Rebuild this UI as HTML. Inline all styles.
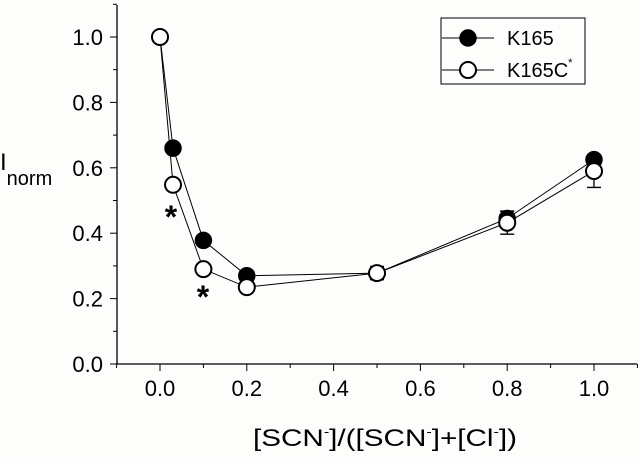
<!DOCTYPE html>
<html><head><meta charset="utf-8"><style>
html,body{margin:0;padding:0;background:#fdfdfb;}
svg{display:block;font-family:"Liberation Sans",Arial,sans-serif;}
</style></head><body>
<svg id="chart" width="640" height="458" viewBox="0 0 640 458" xmlns="http://www.w3.org/2000/svg">
<g id="axes"></g>
<g id="series"></g>
<text x="0" y="170" font-size="24" fill="#000">I<tspan font-size="20" dy="15">norm</tspan></text>
<text x="253" y="446" font-size="24" textLength="264" lengthAdjust="spacingAndGlyphs" fill="#000">[SCN<tspan font-size="13" dy="-10">-</tspan><tspan dy="10">]/([SCN</tspan><tspan font-size="13" dy="-10">-</tspan><tspan dy="10">]+[Cl</tspan><tspan font-size="13" dy="-10">-</tspan><tspan dy="10">])</tspan></text>
<g>
<rect x="441" y="18" width="144" height="66" fill="none" stroke="#000" stroke-width="1"/>
<g>
<line x1="442" y1="38" x2="494" y2="38" stroke="#000" stroke-width="1"/>
<circle cx="468" cy="38" r="8" fill="#000" stroke="#000" stroke-width="1.5"/>
<text x="507" y="45" font-size="20">K165</text></g>
<g>
<line x1="442" y1="70" x2="494" y2="70" stroke="#000" stroke-width="1"/>
<circle cx="468" cy="70" r="8" fill="#fff" stroke="#000" stroke-width="2"/>
<text x="507" y="77" font-size="20">K165C<tspan font-size="11" dy="-11">*</tspan></text></g>
</g>
<text x="171" y="228" font-size="32" font-weight="bold" text-anchor="middle">*</text>
<text x="203" y="308" font-size="32" font-weight="bold" text-anchor="middle">*</text>
</svg>
<script>
const xValues = [0, 0.03, 0.1, 0.2, 0.5, 0.8, 1.0];
const k165 = [1.0, 0.66, 0.378, 0.27, 0.278, 0.445, 0.625];
const k165Err = [0, 0.01, 0.01, 0.01, 0.02, 0.023, 0.01];
const k165c = [1.0, 0.548, 0.29, 0.235, 0.278, 0.432, 0.59];
const k165cErr = [0, 0.012, 0.012, 0.01, 0.02, 0.035, 0.05];
const xTicks = [0.0, 0.2, 0.4, 0.6, 0.8, 1.0];
const yTicks = [0.0, 0.2, 0.4, 0.6, 0.8, 1.0];

const NS = "http://www.w3.org/2000/svg";
const X = v => 160 + v * 434;
const Y = v => 364 - v * 327;
function mk(tag, attrs, parent){const e=document.createElementNS(NS,tag);for(const k in attrs)e.setAttribute(k,attrs[k]);parent.appendChild(e);return e;}
const axes = document.getElementById('axes');
const ser = document.getElementById('series');
let a = mk('line',{x1:117,y1:364,x2:637,y2:364,stroke:'#000','stroke-width':1.3},axes);


a = mk('line',{x1:117,y1:5,x2:117,y2:364,stroke:'#000','stroke-width':1.3},axes);


for (let i = -1; i <= 11; i++) {
  const v = i / 10, major = i % 2 === 0;
  const t = mk('line',{x1:X(v),y1:364,x2:X(v),y2:364+(major?7:4),stroke:'#000','stroke-width':1},axes);
  
  
}
for (let i = 0; i <= 11; i++) {
  const v = i / 10, major = i % 2 === 0;
  const t = mk('line',{x1:117,y1:Y(v),x2:117-(major?7:4),y2:Y(v),stroke:'#000','stroke-width':1},axes);
  
  
}
xTicks.forEach(v => {
  const t = mk('text',{x:X(v),y:396,'font-size':22,'text-anchor':'middle'},axes);
  t.textContent = v.toFixed(1);
  
  
});
yTicks.forEach(v => {
  const t = mk('text',{x:103,y:Y(v)+8,'font-size':22,'text-anchor':'end'},axes);
  t.textContent = v.toFixed(1);
  
  
});
function drawSeries(vals, errs, filled, name){
  const pts = xValues.map((x,i)=>X(x)+','+Y(vals[i])).join(' ');
  const l = mk('polyline',{points:pts,fill:'none',stroke:'#000','stroke-width':1},ser);
  
  
  xValues.forEach((x,i)=>{
    if (errs[i] > 0) {
      const cx = X(x), y1 = Y(vals[i]-errs[i]), y2 = Y(vals[i]+errs[i]);
      const g = mk('path',{d:`M${cx},${y1}V${y2}M${cx-7},${y1}H${cx+7}M${cx-7},${y2}H${cx+7}`,stroke:'#000','stroke-width':1.3,fill:'none'},ser);
      
      
    }
  });
  xValues.forEach((x,i)=>{
    const c = mk('circle',{cx:X(x),cy:Y(vals[i]),r:8,fill:filled?'#000':'#fff',stroke:'#000','stroke-width':filled?1.5:2},ser);
    
    
  });
}
drawSeries(k165, k165Err, true, 'k165');
drawSeries(k165c, k165cErr, false, 'k165c');
</script>
</body></html>
